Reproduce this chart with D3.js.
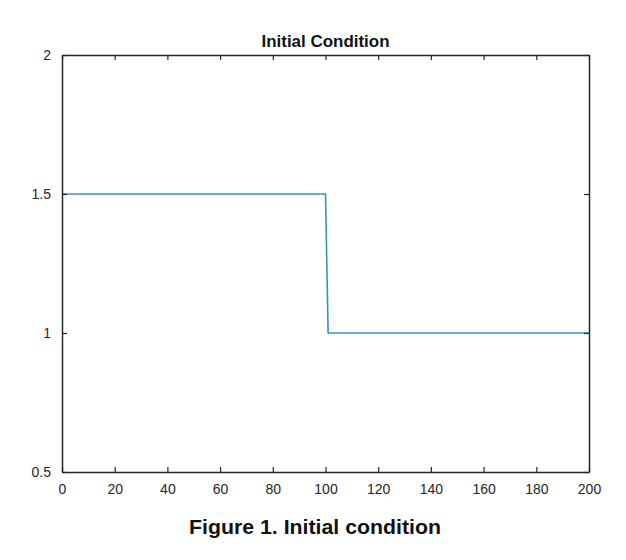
<!DOCTYPE html>
<html>
<head>
<meta charset="utf-8">
<script src="https://cdn.jsdelivr.net/npm/d3@7"></script>
<style>
  body { margin: 0; background: #fff; }
  text { font-family: "Liberation Sans", Arial, sans-serif; }
</style>
</head>
<body>
<div id="chart"></div>
<script>
// step initial condition: breakpoints of the profile
var xVals = [0, 100, 101, 200];
var uVals = [1.5, 1.5, 1, 1];
var xTicks = [0, 20, 40, 60, 80, 100, 120, 140, 160, 180, 200];
var yTicks = [0.5, 1, 1.5, 2];
var titleText = "Initial Condition";
var captionText = "Figure 1. Initial condition";

var W = 626, H = 560;
var margin = {top: 55, right: 37, bottom: 88, left: 62};
var width = W - margin.left - margin.right,
    height = H - margin.top - margin.bottom;

var svg = d3.select("#chart").append("svg")
    .attr("width", W)
    .attr("height", H);

var g = svg.append("g")
    .attr("transform", "translate(" + margin.left + "," + margin.top + ")");

var x = d3.scaleLinear().domain([0, 200]).range([0, width]);
var y = d3.scaleLinear().domain([0.5, 2]).range([height, 0]);

var axisCol = "#262626";

// line first so frame sits on top
var data = xVals.map(function(d, i) { return {x: d, u: uVals[i]}; });
g.append("path")
    .datum(data)
    .attr("fill", "none")
    .attr("stroke", "#3196c4")
    .attr("stroke-width", 1.6)
    .attr("d", d3.line()
      .x(function(d) { return x(d.x); })
      .y(function(d) { return y(d.u); }));

// axes, ticks inward, box on all sides
var xBottom = d3.axisBottom(x).tickValues(xTicks).tickSizeInner(-5).tickSizeOuter(0).tickPadding(12);
var xTop = d3.axisTop(x).tickValues(xTicks).tickSizeInner(-5).tickSizeOuter(0).tickFormat("");
var yLeft = d3.axisLeft(y).tickValues(yTicks).tickSizeInner(-5).tickSizeOuter(0).tickPadding(11)
    .tickFormat(function(d) { return d3.format("")(d); });
var yRight = d3.axisRight(y).tickValues(yTicks).tickSizeInner(-5).tickSizeOuter(0).tickFormat("");

g.append("g").attr("class", "ax").attr("transform", "translate(0," + height + ")").call(xBottom);
g.append("g").attr("class", "ax").call(xTop);
g.append("g").attr("class", "ax").call(yLeft);
g.append("g").attr("class", "ax").attr("transform", "translate(" + width + ",0)").call(yRight);

g.selectAll(".ax").attr("font-size", 14).attr("font-family", null);
g.selectAll(".ax path").attr("stroke", axisCol).attr("stroke-width", 1.5);
g.selectAll(".ax line").attr("stroke", axisCol).attr("stroke-width", 1.2);
g.selectAll(".ax text")
    .attr("fill", axisCol)
    .style("font-size", "14px");

// title
svg.append("text")
    .attr("x", margin.left + width / 2)
    .attr("y", 47)
    .attr("text-anchor", "middle")
    .attr("font-weight", "bold")
    .attr("textLength", 128)
    .attr("lengthAdjust", "spacingAndGlyphs")
    .style("font-size", "17px")
    .attr("fill", "#111")
    .text(titleText);

// caption under figure
svg.append("text")
    .attr("x", 315)
    .attr("y", 534)
    .attr("text-anchor", "middle")
    .attr("font-weight", "bold")
    .attr("textLength", 252)
    .attr("lengthAdjust", "spacingAndGlyphs")
    .style("font-size", "21px")
    .attr("fill", "#111")
    .text(captionText);
</script>
</body>
</html>
